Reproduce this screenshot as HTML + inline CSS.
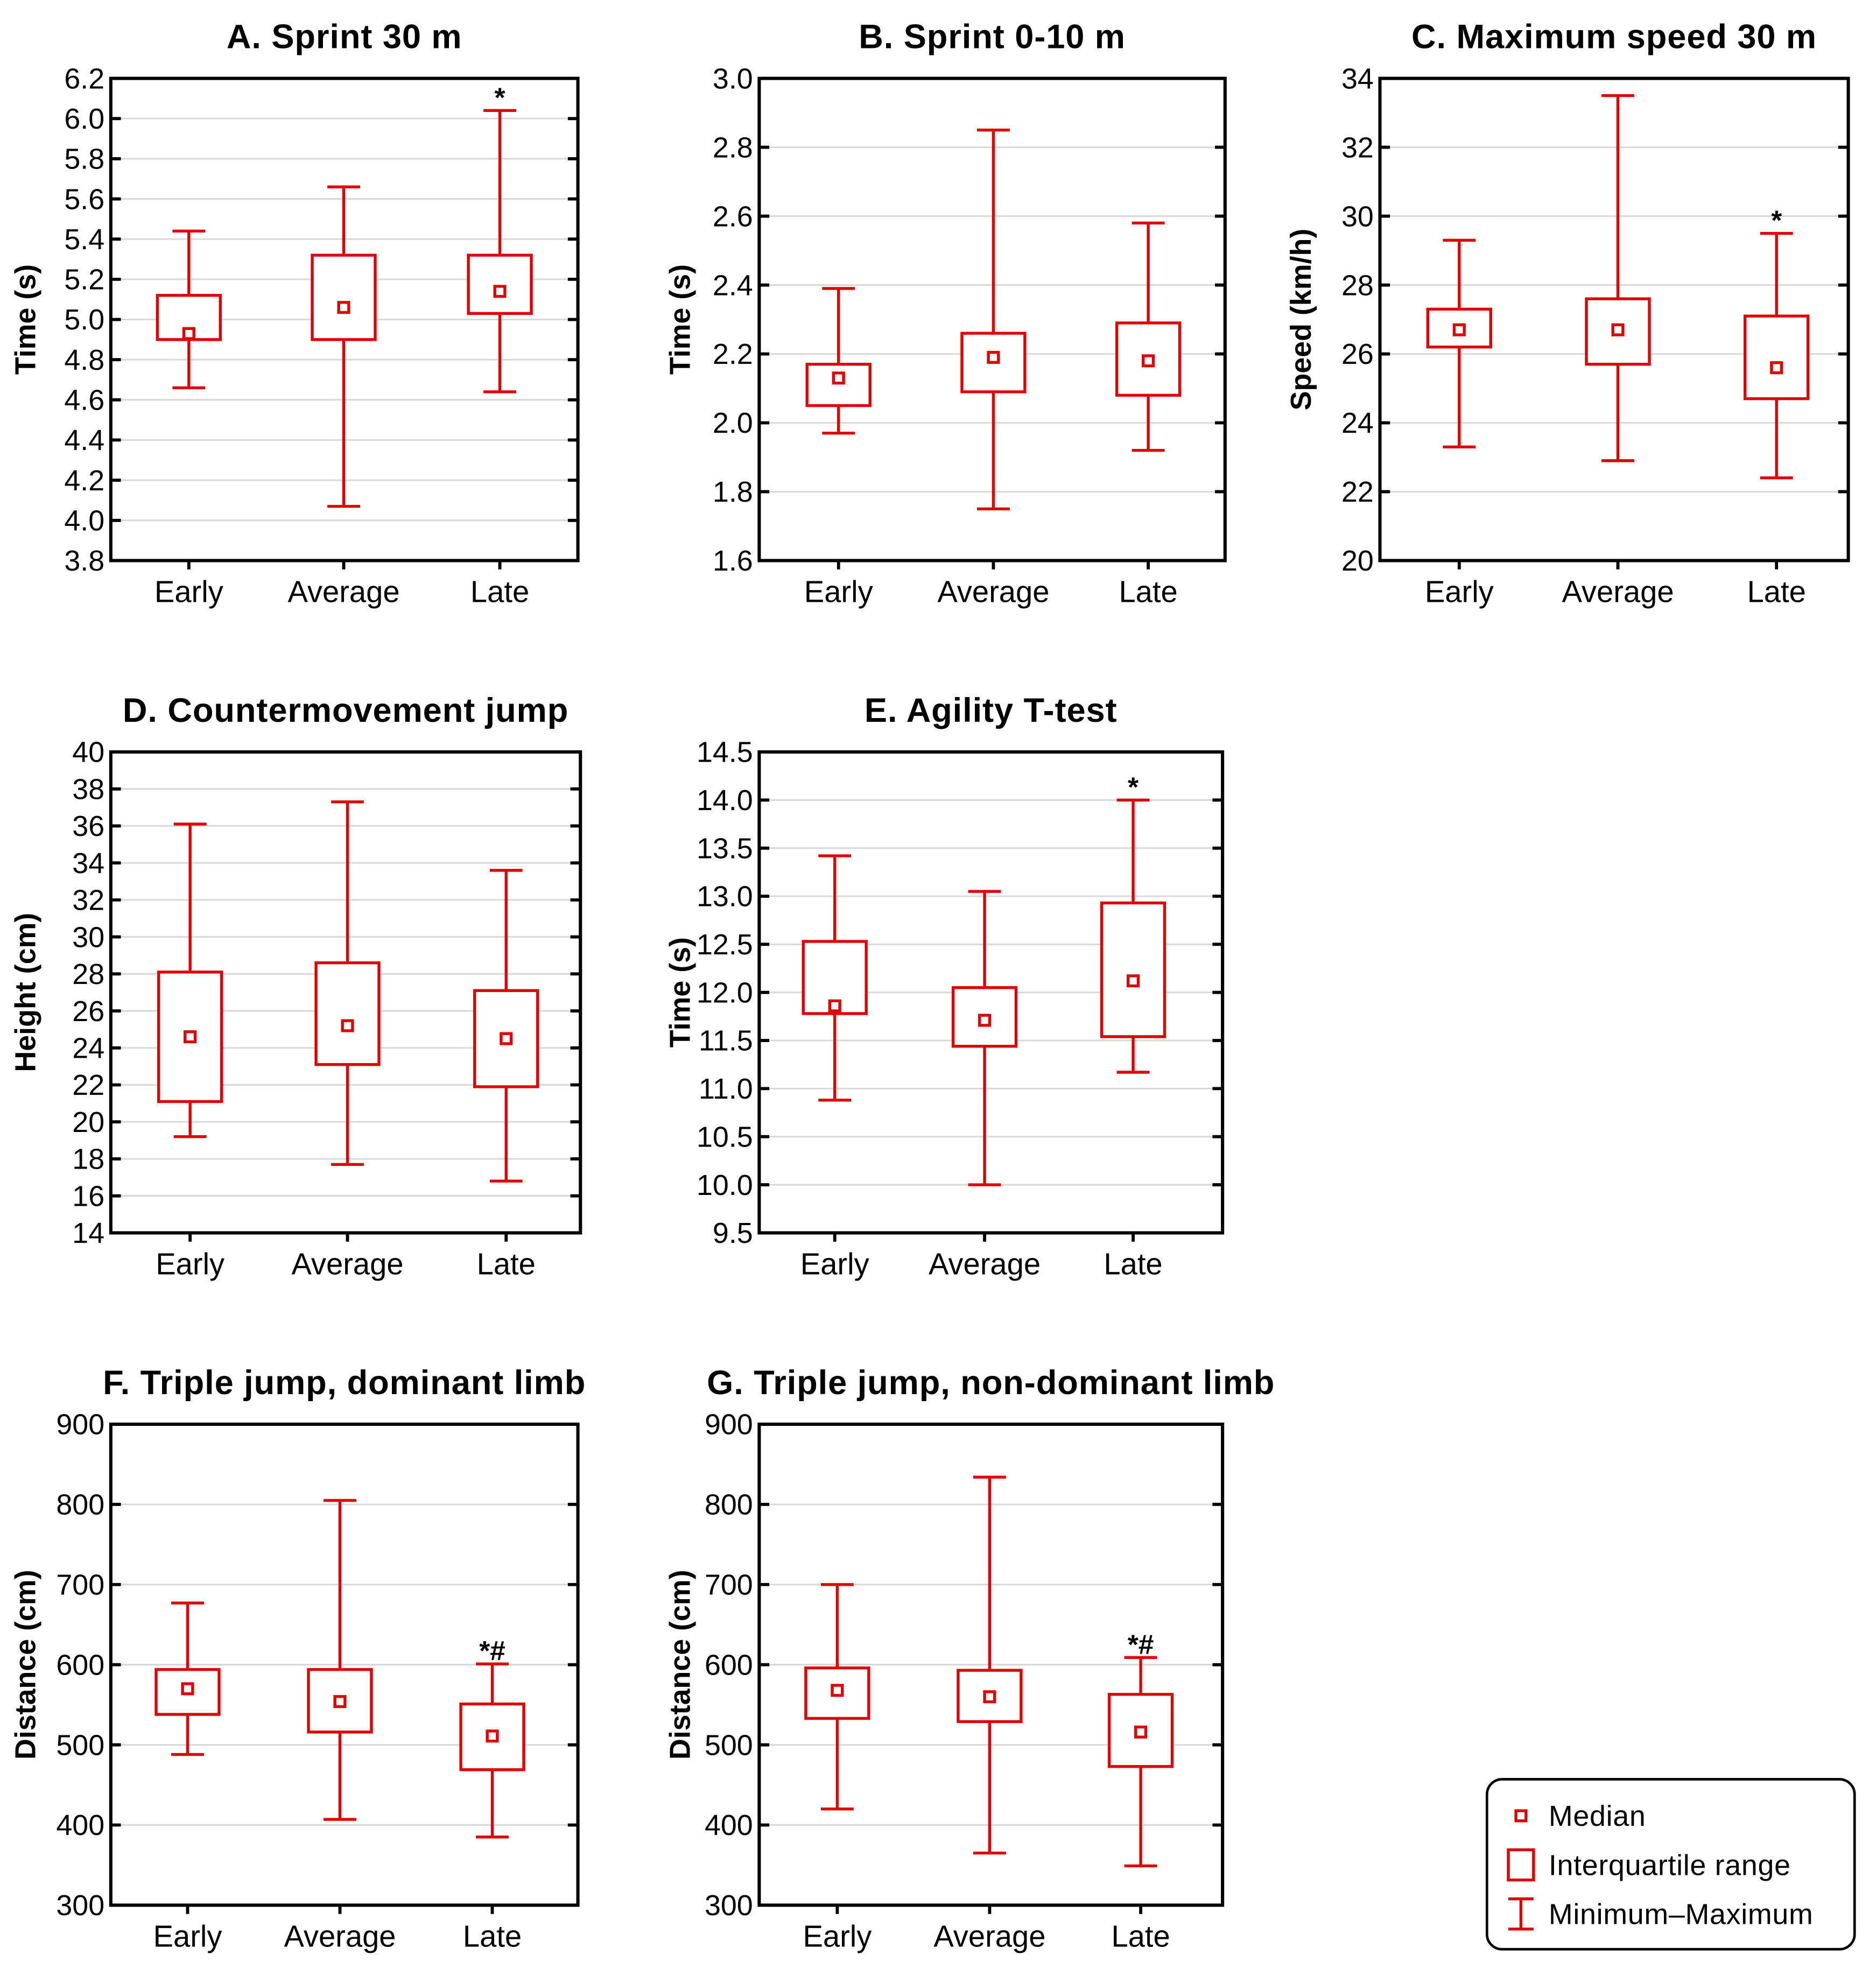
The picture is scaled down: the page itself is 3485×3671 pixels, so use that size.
<!DOCTYPE html>
<html><head><meta charset="utf-8"><style>
html,body{margin:0;padding:0;background:#fff;}
svg{display:block;font-family:"Liberation Sans",Arial,sans-serif;}
</style></head><body>
<svg id="chart" width="3485" height="3671" viewBox="0 0 1490 1569" xmlns="http://www.w3.org/2000/svg"></svg>
<script>
const categories = ["Early","Average","Late"];
const panelTitles = ["A. Sprint 30 m","B. Sprint 0-10 m","C. Maximum speed 30 m","D. Countermovement jump","E. Agility T-test","F. Triple jump, dominant limb","G. Triple jump, non-dominant limb"];
const yTitles = ["Time (s)","Time (s)","Speed (km/h)","Height (cm)","Time (s)","Distance (cm)","Distance (cm)"];
const yMins = [3.8,1.6,20,14,9.5,300,300];
const yMaxs = [6.2,3.0,34,40,14.5,900,900];
const yStepsArr = [0.2,0.2,2,2,0.5,100,100];
const yDecimals = [1,1,0,0,1,0,0];
// [min, q1, median, q3, max] per category
const dataA = [[4.66,4.90,4.93,5.12,5.44],[4.07,4.90,5.06,5.32,5.66],[4.64,5.03,5.14,5.32,6.04]];
const dataB = [[1.97,2.05,2.13,2.17,2.39],[1.75,2.09,2.19,2.26,2.85],[1.92,2.08,2.18,2.29,2.58]];
const dataC = [[23.3,26.2,26.7,27.3,29.3],[22.9,25.7,26.7,27.6,33.5],[22.4,24.7,25.6,27.1,29.5]];
const dataD = [[19.2,21.1,24.6,28.1,36.1],[17.7,23.1,25.2,28.6,37.3],[16.8,21.9,24.5,27.1,33.6]];
const dataE = [[10.88,11.78,11.86,12.53,13.42],[10.0,11.44,11.71,12.05,13.05],[11.17,11.54,12.12,12.93,14.0]];
const dataF = [[488,538,570,594,677],[407,516,554,594,805],[385,469,511,551,601]];
const dataG = [[420,533,568,596,700],[365,529,560,593,834],[349,473,516,563,609]];
const sigMarks = [["","","*"],["","",""],["","","*"],["","",""],["","","*"],["","","*#"],["","","*#"]];
const allData = [dataA,dataB,dataC,dataD,dataE,dataF,dataG];

const frames = [
 {x0:88,x1:459,y0:62,y1:445,cx:[150,273,397]},
 {x0:603,x1:973,y0:62,y1:445,cx:[666,789,912]},
 {x0:1096,x1:1468,y0:62,y1:445,cx:[1159,1285,1411]},
 {x0:88,x1:461,y0:597,y1:979,cx:[151,276,402]},
 {x0:603,x1:971,y0:597,y1:979,cx:[663,782,900]},
 {x0:88,x1:459,y0:1131,y1:1513,cx:[149,270,391]},
 {x0:603,x1:971,y0:1131,y1:1513,cx:[665,786,906]}
];
const NS="http://www.w3.org/2000/svg";
const svg=document.getElementById('chart');
function mk(tag,attrs,parent){const e=document.createElementNS(NS,tag);for(const k in attrs)e.setAttribute(k,attrs[k]);(parent||svg).appendChild(e);return e;}
const RED="#e00000";
allData.forEach((data,p)=>{
  const f=frames[p];
  const g=mk('g',{});
  
  
  const yS=v=>f.y1-(v-yMins[p])/(yMaxs[p]-yMins[p])*(f.y1-f.y0);
  const n=Math.round((yMaxs[p]-yMins[p])/yStepsArr[p]);
  for(let i=0;i<=n;i++){
    const v=yMins[p]+i*yStepsArr[p];const y=yS(v);
    if(i>0&&i<n){
      const gl=mk('line',{x1:f.x0,x2:f.x1,y1:y,y2:y,stroke:"#d8d8d8","stroke-width":1.3},g);
      
      
      mk('line',{x1:f.x0,x2:f.x0+8,y1:y,y2:y,stroke:"#000","stroke-width":2.5},g);
      mk('line',{x1:f.x1-8,x2:f.x1,y1:y,y2:y,stroke:"#000","stroke-width":2.5},g);
    }
    const t=mk('text',{x:f.x0-5,y:y+8,"text-anchor":"end","font-size":23},g);
    t.textContent=v.toFixed(yDecimals[p]);
    
    
  }
  const fr=mk('rect',{x:f.x0,y:f.y0,width:f.x1-f.x0,height:f.y1-f.y0,fill:"none",stroke:"#000","stroke-width":2.6},g);
  
  
  const tt=mk('text',{x:(f.x0+f.x1)/2,y:f.y0-24,"text-anchor":"middle","font-size":27,"font-weight":"bold","letter-spacing":"0.4"},g);
  tt.textContent=panelTitles[p];
  
  
  const yc=(f.y0+f.y1)/2;
  const yt=mk('text',{x:0,y:0,transform:`translate(28,${yc}) rotate(-90)`,"text-anchor":"middle","font-size":23,"font-weight":"bold"},g);
  if(f.x0>500) yt.setAttribute('transform',`translate(${f.x0-55},${yc}) rotate(-90)`);
  yt.textContent=yTitles[p];
  
  
  data.forEach((d,c)=>{
    const x=f.cx[c];
    mk('line',{x1:x,x2:x,y1:f.y1,y2:f.y1+7,stroke:"#000","stroke-width":2.5},g);
    const cl=mk('text',{x:x,y:f.y1+33,"text-anchor":"middle","font-size":24},g);
    cl.textContent=categories[c];
    
    
    const bg=mk('g',{stroke:RED,"stroke-width":2.3,fill:"none"},g);
    
    
    mk('line',{x1:x,x2:x,y1:yS(d[0]),y2:yS(d[1])},bg);
    mk('line',{x1:x,x2:x,y1:yS(d[3]),y2:yS(d[4])},bg);
    mk('line',{x1:x-13,x2:x+13,y1:yS(d[0]),y2:yS(d[0])},bg);
    mk('line',{x1:x-13,x2:x+13,y1:yS(d[4]),y2:yS(d[4])},bg);
    mk('rect',{x:x-25,y:yS(d[3]),width:50,height:yS(d[1])-yS(d[3]),fill:"#fff"},bg);
    mk('rect',{x:x-4,y:yS(d[2])-4,width:8,height:8,fill:"#fff"},bg);
    if(sigMarks[p][c]){
      const s=mk('text',{x:x,y:yS(d[4])-3,"text-anchor":"middle","font-size":22,"font-weight":"bold"},g);
      s.textContent=sigMarks[p][c];
      
      
    }
  });
});
// legend
const lg=mk('g',{});


mk('rect',{x:1181,y:1413,width:292,height:135,rx:12,fill:"#fff",stroke:"#000","stroke-width":2},lg);
mk('rect',{x:1204,y:1438,width:8,height:8,fill:"none",stroke:RED,"stroke-width":2.3},lg);
mk('rect',{x:1198,y:1469,width:20,height:24,fill:"none",stroke:RED,"stroke-width":2.3},lg);
mk('line',{x1:1208,x2:1208,y1:1508,y2:1532,stroke:RED,"stroke-width":2.3},lg);
mk('line',{x1:1198,x2:1218,y1:1508,y2:1508,stroke:RED,"stroke-width":2.3},lg);
mk('line',{x1:1198,x2:1218,y1:1532,y2:1532,stroke:RED,"stroke-width":2.3},lg);
const legendLabels=["Median","Interquartile range","Minimum\u2013Maximum"];
legendLabels.forEach((l,i)=>{
  const t=mk('text',{x:1230,y:1450+i*39,"font-size":23,"letter-spacing":"0.3"},lg);
  t.textContent=l;
  
  
});
</script>
</body></html>
